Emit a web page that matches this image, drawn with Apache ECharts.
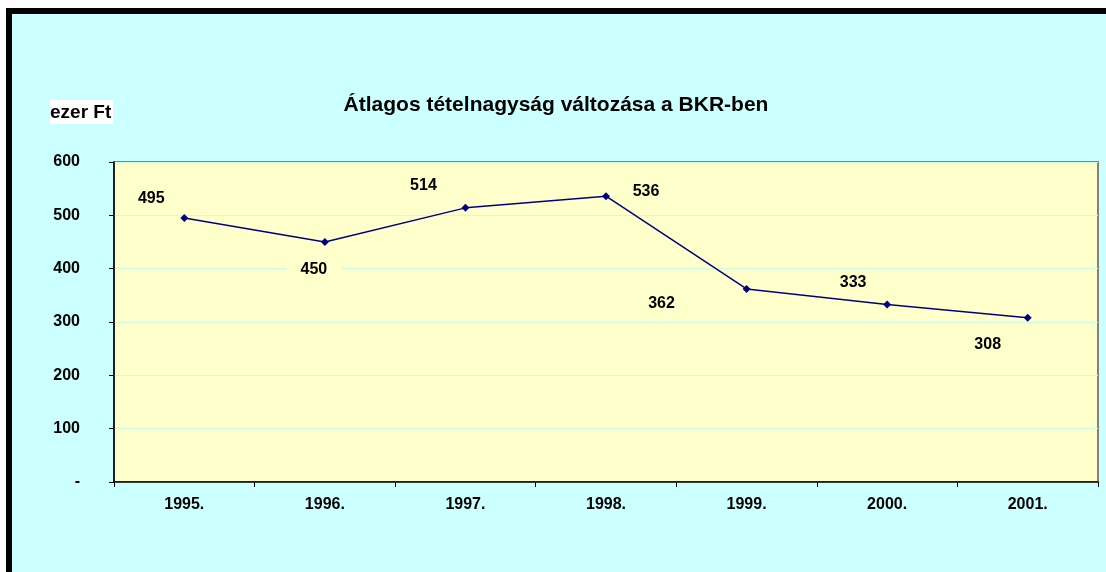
<!DOCTYPE html>
<html>
<head>
<meta charset="utf-8">
<script src="https://cdn.jsdelivr.net/npm/echarts@6/dist/echarts.min.js"></script>
<style>
  html, body { margin: 0; padding: 0; background: #fff; }
  #frame {
    position: absolute; left: 6px; top: 8px;
    border-top: 6px solid #000; border-left: 6px solid #000;
  }
  #chart { width: 1094px; height: 558px; background: #CCFFFF; }
</style>
</head>
<body>
<div id="frame"><div id="chart"></div></div>
<script>
var years = ['1995.', '1996.', '1997.', '1998.', '1999.', '2000.', '2001.'];
var values = [495, 450, 514, 536, 362, 333, 308];
var yTicks = [0, 100, 200, 300, 400, 500, 600];

(function() {
    var chart = echarts.init(document.getElementById('chart'));

    // where each value label sits, relative to its point
    var labelOffsets = [[-33, -19], [-11, 28], [-42, -22], [40, -5], [-85, 15], [-34, -22], [-40, 27]];

    var points = values.map(function(v, i) {
        return {
            value: v,
            label: { offset: labelOffsets[i] }
        };
    });

    var font = 'Liberation Sans, Arial, sans-serif';

    chart.setOption({
        animation: false,
        backgroundColor: '#CCFFFF',
        title: {
            text: 'Átlagos tételnagyság változása a BKR-ben',
            left: 539, top: 76, textAlign: 'center',
            textStyle: { fontFamily: font, fontSize: 21, fontWeight: 'bold', color: '#000' }
        },
        graphic: [
            // "ezer Ft" box, cut off at the right like in the original
            { type: 'rect', left: 38, top: 86, shape: { width: 63, height: 24 }, style: { fill: '#fff' } },
            {
                type: 'text', left: 38, top: 89,
                style: { text: 'ezer Ft', fontFamily: font, fontSize: 19, fontWeight: 'bold', fill: '#000' }
            },
            { type: 'rect', left: 101, top: 84, z: 10, shape: { width: 16, height: 28 }, style: { fill: '#CCFFFF' } }
        ],
        grid: {
            left: 102, top: 148, right: 8, bottom: 90,
            show: true, backgroundColor: '#FFFFCC', borderColor: '#808080', borderWidth: 2
        },
        xAxis: {
            type: 'category',
            data: years,
            boundaryGap: true,
            axisLine: { lineStyle: { color: '#000', width: 1.5 } },
            axisTick: { show: true, length: 5, lineStyle: { color: '#000' } },
            axisLabel: { margin: 15, fontFamily: font, fontSize: 16, fontWeight: 'bold', color: '#000' }
        },
        yAxis: {
            type: 'value',
            min: yTicks[0], max: yTicks[yTicks.length - 1], interval: 100,
            axisLine: { show: true, lineStyle: { color: '#000', width: 1.5 } },
            axisTick: { show: true, length: 5, lineStyle: { color: '#000' } },
            splitLine: { lineStyle: { color: '#CCFFE0', width: 1 } },
            axisLabel: {
                margin: 34, fontFamily: font, fontSize: 16, fontWeight: 'bold', color: '#000',
                formatter: function(v) { return v === 0 ? '-' : String(v); }
            }
        },
        series: [{
            type: 'line',
            data: points,
            symbol: 'diamond',
            symbolSize: 8,
            lineStyle: { color: '#000080', width: 1.5 },
            itemStyle: { color: '#000080' },
            label: {
                show: true, position: 'inside',
                align: 'center', verticalAlign: 'middle',
                fontFamily: font, fontSize: 16, fontWeight: 'bold', color: '#000',
                backgroundColor: '#FFFFCC', padding: [2, 14]
            }
        }]
    });
})();
</script>
</body>
</html>
